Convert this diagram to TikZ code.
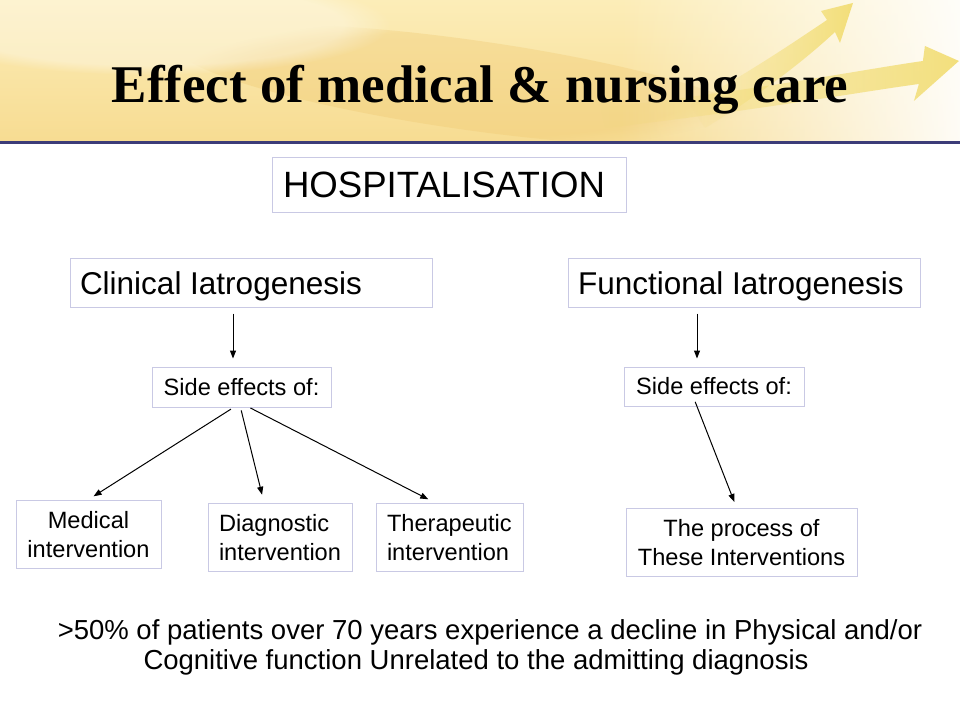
\documentclass[tikz,border=0pt]{standalone}
\usepackage{fontspec}
\setmainfont{Liberation Serif}
\newfontfamily\arialf{Liberation Sans}
\usetikzlibrary{arrows.meta,fadings,calc}
\definecolor{hdrtop}{HTML}{FCEDB8}
\definecolor{hdrbot}{HTML}{F7DC92}
\definecolor{hdrdark}{HTML}{EFC870}
\definecolor{arrowc}{HTML}{F0D85E}
\definecolor{navyline}{HTML}{3C3C78}
\definecolor{boxc}{HTML}{C9C9E4}
\newcommand{\lbox}[2]{\makebox[#1][l]{\raisebox{0pt}[\height][\dimexpr\depth-5.4pt\relax]{\begin{tabular}{@{}l@{}}#2\end{tabular}}}}
\newcommand{\cbox}[2]{\makebox[#1][c]{\raisebox{0pt}[\height][\dimexpr\depth-5.4pt\relax]{\begin{tabular}{@{}c@{}}#2\end{tabular}}}}
\tikzset{
  box/.style={draw=boxc, line width=1pt, inner xsep=0pt, inner ysep=2pt},
  bigf/.style={font=\arialf\fontsize{36.6}{43}\selectfont},
  midf/.style={font=\arialf\fontsize{31.5}{38}\selectfont},
  smallf/.style={font=\arialf\fontsize{23.6}{29}\selectfont},
  arr/.style={draw=black, line width=1pt, -{Triangle[length=8pt,width=6pt]}},
}
\begin{document}
\begin{tikzpicture}[x=1pt,y=1pt]
\useasboundingbox (0,0) rectangle (960,-720);
\fill[white] (0,0) rectangle (960,-720);
% header background
\shade[top color=hdrtop, bottom color=hdrbot] (0,0) rectangle (960,-141);
\fill[hdrdark, opacity=.35, path fading=circle with fuzzy edge 20 percent, rotate around={-8:(470,-85)}] (470,-85) ellipse [x radius=300, y radius=45];
\fill[white, opacity=.35, path fading=circle with fuzzy edge 20 percent] (150,-25) ellipse [x radius=240, y radius=50];
\fill[white, opacity=.92, path fading=west] (620,0) rectangle (960,-141);
% yellow arrows
\fill[arrowc, opacity=.8, path fading=west]
  (853,-3) -- (821,-11) -- (827,-20) .. controls (790,-45) and (745,-75) .. (690,-105)
  -- (705,-128) .. controls (760,-95) and (805,-60) .. (835,-32) -- (840,-43) -- cycle;
\fill[arrowc, opacity=.8, path fading=west]
  (959,-61) -- (925,-46) -- (923,-61) .. controls (860,-70) and (760,-90) .. (600,-108)
  -- (605,-128) .. controls (760,-110) and (860,-92) .. (919,-84) -- (914,-101) -- cycle;
\fill[navyline] (0,-140.5) rectangle (960,-143.5);
% title
\node[font=\fontsize{53}{60}\selectfont\bfseries, anchor=base] (title) at (480,-102) {Effect of medical \& nursing care};
% boxes
\node[box, bigf, minimum width=354, minimum height=55] (hosp) at (449,-184.5) {\makebox[332pt][l]{HOSPITALISATION}};
\node[box, midf, minimum width=362, minimum height=49, text height=23pt, text depth=0pt] (clin) at (251,-282.5) {\makebox[342pt][l]{Clinical Iatrogenesis}};
\node[box, midf, minimum width=352, minimum height=49, text height=23pt, text depth=0pt] (func) at (744,-282.5) {\makebox[332pt][l]{Functional Iatrogenesis}};
\node[box, smallf, minimum width=179, minimum height=40] (se1) at (241.5,-387) {\makebox[171pt][c]{Side effects of:}};
\node[box, smallf, minimum width=180, minimum height=39] (se2) at (714,-386.5) {\makebox[172pt][c]{Side effects of:}};
\node[box, smallf, minimum width=145, minimum height=68] (med) at (88.5,-534) {\cbox{135pt}{Medical\\intervention}};
\node[box, smallf, minimum width=144, minimum height=68] (diag) at (280,-537) {\lbox{122pt}{Diagnostic\\intervention}};
\node[box, smallf, minimum width=147, minimum height=68] (ther) at (449.5,-537) {\lbox{125pt}{Therapeutic\\intervention}};
\node[box, smallf, minimum width=231, minimum height=68] (proc) at (741.5,-542) {\cbox{221pt}{The process of\\These Interventions}};
% bottom text
\node[font=\arialf\fontsize{27.5}{30}\selectfont, align=center] (note) at (483,-647) {\hspace*{14pt}>50\% of patients over 70 years experience a decline in Physical and/or\\Cognitive function Unrelated to the admitting diagnosis\hspace*{14pt}};
% connectors
\draw[arr, shorten <=6pt, shorten >=8pt] (clin.south -| 233,0) -- (se1.north -| 233,0);
\draw[arr, shorten <=6pt, shorten >=8pt] (func.south -| 697,0) -- (se2.north -| 697,0);
\draw[arr, shorten <=3pt, shorten >=6pt] ([xshift=-8pt]se1.south) -- (med.north);
\draw[arr, shorten <=3pt, shorten >=8pt] ([xshift=-1pt]se1.south) -- ([xshift=-16pt]diag.north);
\draw[arr, shorten <=1pt, shorten >=7pt] ([xshift=8pt]se1.south) -- ([xshift=-15pt]ther.north);
\draw[arr, shorten <=-5pt, shorten >=6pt] ([xshift=-17pt]se2.south) -- ([xshift=-5pt]proc.north);
\end{tikzpicture}
\end{document}
